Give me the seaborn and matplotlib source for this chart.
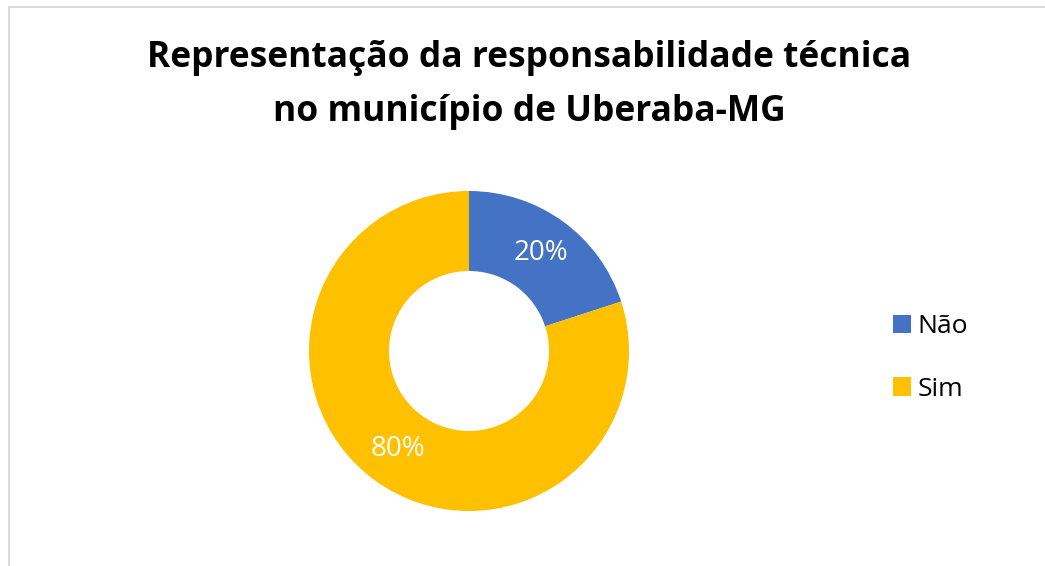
import matplotlib
matplotlib.use("Agg")
import matplotlib.pyplot as plt
import seaborn as sns

# data
categories = ["Não", "Sim"]
values = [20, 80]
colors = ["#4472C4", "#FFC000"]
title = "Representação da responsabilidade técnica\nno município de Uberaba-MG"

sns.set_theme(style="white")
plt.rcParams["font.family"] = ["Open Sans", "DejaVu Sans"]

W, H = 1045, 566
fig = plt.figure(figsize=(W / 100, H / 100), dpi=100)
fig.patch.set_facecolor("white")

# chart frame (cropped at right and bottom)
frame = plt.Rectangle((8.5 / W, -0.05), 1.1, 1 - 6.5 / H + 0.05, transform=fig.transFigure,
                      fill=False, edgecolor="#D9D9D9", linewidth=1.3)
fig.patches.append(frame)

# donut: center (469, 351), radius 160
cx, cy, r = 469, 351, 160
ax = fig.add_axes([(cx - r) / W, (H - cy - r) / H, 2 * r / W, 2 * r / H])
wedges, texts, autotexts = ax.pie(
    values, colors=colors, startangle=90, counterclock=False,
    autopct="%1.0f%%", pctdistance=0.76, radius=1.0,
    wedgeprops=dict(width=0.5, edgecolor="white", linewidth=0),
    textprops=dict(color="white", fontsize=20),
)
ax.set_xlim(-1, 1)
ax.set_ylim(-1, 1)
ax.set_aspect("equal")
ax.axis("off")

fig.text(529 / W, 1 - 85 / H, title, ha="center", va="center",
         fontsize=25.5, fontweight="bold", color="black", linespacing=1.65)

leg = fig.legend(wedges, categories, loc="center left",
                 bbox_to_anchor=(869 / W, 1 - 358 / H), frameon=False,
                 fontsize=19, handlelength=0.68, handleheight=0.68,
                 handletextpad=0.27, labelspacing=1.42, labelcolor="black")

fig.savefig("out.png", dpi=100, facecolor="white")
